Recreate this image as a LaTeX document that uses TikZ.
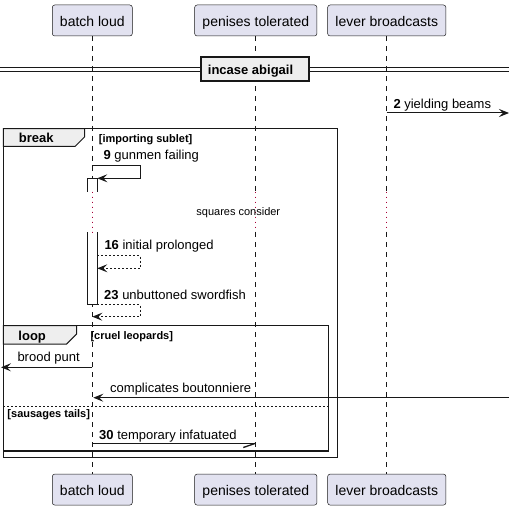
\documentclass[tikz,border=0pt]{standalone}
\usepackage{fontspec}
\setmainfont{Liberation Sans}
\usetikzlibrary{arrows.meta}
\definecolor{partfill}{HTML}{E2E2F0}
\definecolor{ink}{HTML}{181818}
\definecolor{grpfill}{HTML}{EEEEEE}
\definecolor{delayred}{HTML}{A80036}
\begin{document}
\begin{tikzpicture}[x=1pt,y=-1pt,
  partbox/.style={draw=ink, line width=0.5pt, fill=partfill, rounded corners=2.5pt,
    minimum height=31pt, inner sep=0pt, text height=11.8pt, text depth=0pt,
    font=\fontsize{14}{16}\selectfont},
  lifeline/.style={draw=ink, line width=0.5pt, dash pattern=on 5pt off 5pt},
  delayline/.style={draw=delayred, line width=1pt, dash pattern=on 1pt off 4pt},
  msg/.style={draw=ink, line width=1pt, -{Stealth[length=10pt,width=8pt,inset=4pt]}},
  retmsg/.style={msg, dash pattern=on 2pt off 2pt},
  plainline/.style={draw=ink, line width=1pt},
  msglabel/.style={anchor=base west, inner sep=0pt, font=\fontsize{13}{15}\selectfont},
  guardlabel/.style={anchor=base west, inner sep=0pt, font=\fontsize{11}{13}\selectfont\bfseries},
  grouplabel/.style={anchor=base west, inner sep=0pt, font=\fontsize{13}{15}\selectfont\bfseries},
  groupframe/.style={draw=ink, line width=1.5pt},
  grouptab/.style={draw=ink, line width=1pt, fill=grpfill},
  sepline/.style={draw=ink, line width=1pt, dash pattern=on 2pt off 2pt},
  actbar/.style={draw=ink, line width=1pt}
]
\useasboundingbox (0,0) rectangle (515,511);

% participants (top and bottom)
\node[partbox, minimum width=80pt]   (bt) at (92.3,20.5)  {batch loud};
\node[partbox, minimum width=122.3pt] (pt) at (255.8,20.5) {penises tolerated};
\node[partbox, minimum width=118.3pt] (lt) at (386.8,20.5) {lever broadcasts};
\node[partbox, minimum width=80pt]   (bb) at (92.3,489.6)  {batch loud};
\node[partbox, minimum width=122.3pt] (pb) at (255.8,489.6) {penises tolerated};
\node[partbox, minimum width=118.3pt] (lb) at (386.8,489.6) {lever broadcasts};

% lifeline coordinates
\coordinate (bA) at (92.3,36);   \coordinate (bB) at (92.3,191.7);
\coordinate (bC) at (92.3,232);  \coordinate (bD) at (92.3,474.3);
\coordinate (pA) at (255.5,36);  \coordinate (pB) at (255.5,191.7);
\coordinate (pC) at (255.5,232); \coordinate (pD) at (255.5,474.3);
\coordinate (lA) at (386.7,36);  \coordinate (lB) at (386.7,191.7);
\coordinate (lC) at (386.7,232); \coordinate (lD) at (386.7,474.3);

\draw[lifeline] (bA) -- (bB); \draw[delayline] (bB) -- (bC); \draw[lifeline] (bC) -- (bD);
\draw[lifeline] (pA) -- (pB); \draw[delayline] (pB) -- (pC); \draw[lifeline] (pC) -- (pD);
\draw[lifeline] (lA) -- (lB); \draw[delayline] (lB) -- (lC); \draw[lifeline] (lC) -- (lD);

% divider
\coordinate (dL1) at (0,67.7);  \coordinate (dR1) at (509,67.7);
\coordinate (dL2) at (0,71.7);  \coordinate (dR2) at (509,71.7);
\draw[plainline] (dL1) -- (dR1);
\draw[plainline] (dL2) -- (dR2);
\draw[draw=ink, line width=2pt, fill=grpfill] (201,57.3) rectangle (309,80.7);
\node[grouplabel] (divtext) at (207.7,75) {incase abigail};

% message 2
\coordinate (m2a) at (386.7,113); \coordinate (m2b) at (509,113);
\draw[msg] (m2a) -- (m2b);
\node[msglabel] (m2l) at (393.3,108.3) {\textbf{2} yielding beams};

% break frame
\draw[groupframe] (3.3,128.7) rectangle (337.5,457.5);
\draw[grouptab] (3.3,128.7) -- (84.5,128.7) -- (84.5,137) -- (75,146.5) -- (3.3,146.5) -- cycle;
\node[grouplabel] (brk) at (18.7,142.7) {break};
\node[guardlabel] (brkg) at (98.7,142.7) {[importing sublet]};

% activation bar
\fill[white] (87.3,178.3) rectangle (97.3,191.7);
\fill[white] (87.3,232) rectangle (97.3,304);
\draw[delayline] (bB) -- (bC);
\draw[actbar] (87.3,191.7) -- (87.3,178.3) -- (97.3,178.3) -- (97.3,191.7);
\draw[actbar] (87.3,232) -- (87.3,304) -- (97.3,304) -- (97.3,232);

% message 9
\coordinate (m9a) at (92.3,165.7); \coordinate (m9b) at (140,165.7);
\coordinate (m9c) at (140,178.3);  \coordinate (m9d) at (97.3,178.3);
\draw[msg] (m9a) -- (m9b) -- (m9c) -- (m9d);
\node[msglabel] (m9l) at (103.3,160) {\textbf{9} gunmen failing};

% delay text
\node[anchor=base, inner sep=0pt, font=\fontsize{11}{13}\selectfont] (delay) at (238.3,215.3) {squares consider};

% message 16
\coordinate (m16a) at (97.3,255.3); \coordinate (m16b) at (140,255.3);
\coordinate (m16c) at (140,268.3);  \coordinate (m16d) at (97.3,268.3);
\draw[retmsg] (m16a) -- (m16b) -- (m16c) -- (m16d);
\node[msglabel] (m16l) at (104.3,249.3) {\textbf{16} initial prolonged};

% message 23
\coordinate (m23a) at (97.3,304.3); \coordinate (m23b) at (140,304.3);
\coordinate (m23c) at (140,316.7);  \coordinate (m23d) at (92.3,316.7);
\draw[retmsg] (m23a) -- (m23b) -- (m23c) -- (m23d);
\node[msglabel] (m23l) at (104,299) {\textbf{23} unbuttoned swordfish};

% loop frame
\draw[groupframe] (3.3,325.7) rectangle (328.3,451);
\draw[grouptab] (3.3,325.7) -- (76.7,325.7) -- (76.7,334) -- (66.7,344) -- (3.3,344) -- cycle;
\node[grouplabel] (lp) at (18.3,340.7) {loop};
\node[guardlabel] (lpg) at (90.3,339) {[cruel leopards]};

% brood punt
\coordinate (bpa) at (92.3,367.3); \coordinate (bpb) at (1,367.3);
\draw[msg] (bpa) -- (bpb);
\node[msglabel] (bpl) at (17.3,361.7) {brood punt};

% complicates boutonniere
\coordinate (cba) at (509,397.7); \coordinate (cbb) at (93.3,397.7);
\draw[msg] (cba) -- (cbb);
\node[msglabel] (cbl) at (110,392.7) {complicates boutonniere};

% else separator
\coordinate (sepa) at (3.3,406.3); \coordinate (sepb) at (328.3,406.3);
\draw[sepline] (sepa) -- (sepb);
\node[guardlabel] (elseg) at (7.3,417.7) {[sausages tails]};

% message 30 (half arrow)
\coordinate (m30a) at (92.3,443.3); \coordinate (m30b) at (255.5,443.3);
\coordinate (m30h) at (243.3,447.5);
\draw[plainline] (m30a) -- (m30b);
\draw[draw=ink, line width=1.3pt] (m30b) -- (m30h);
\node[msglabel] (m30l) at (99,439) {\textbf{30} temporary infatuated};

\end{tikzpicture}
\end{document}
